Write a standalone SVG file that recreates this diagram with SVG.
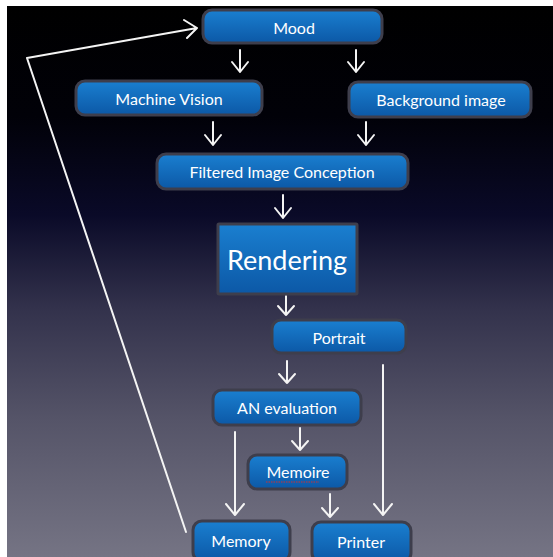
<svg xmlns="http://www.w3.org/2000/svg" width="553" height="557" viewBox="0 0 553 557">
<defs>
<linearGradient id="bg" x1="0" y1="0" x2="0" y2="1">
<stop offset="0" stop-color="#000000"/>
<stop offset="0.2" stop-color="#010108"/>
<stop offset="0.38" stop-color="#0a0a28"/>
<stop offset="0.55" stop-color="#33324c"/>
<stop offset="0.75" stop-color="#555468"/>
<stop offset="1" stop-color="#757484"/>
</linearGradient>
<linearGradient id="box" x1="0" y1="0" x2="0" y2="1">
<stop offset="0" stop-color="#1a7fd0"/>
<stop offset="1" stop-color="#0c58a6"/>
</linearGradient>
</defs>
<style>
.node rect{fill:url(#box);stroke:#3e3e4c;stroke-width:3}
.node text{fill:#ffffff;font-family:Lato,"Open Sans","Liberation Sans",sans-serif;font-size:16px;text-anchor:middle;dominant-baseline:central}
.c{fill:none;stroke:#f4f4f4;stroke-width:2;stroke-linecap:round;stroke-linejoin:round}
</style>
<rect x="0" y="0" width="553" height="557" fill="#ffffff"/>
<rect x="7" y="6" width="546" height="551" fill="url(#bg)"/>
<g id="connectors">
<path class="c" d="M240,50 V72 M232,62 L240,72 L248,62"/>
<path class="c" d="M356,50 V72 M348,62 L356,72 L364,62"/>
<path class="c" d="M213,122 V145 M205,135 L213,145 L221,135"/>
<path class="c" d="M366,122 V145 M358,135 L366,145 L374,135"/>
<path class="c" d="M283,195 V218 M275,208 L283,218 L291,208"/>
<path class="c" d="M286,296 V315 M278,306 L286,315 L294,306"/>
<path class="c" d="M287,361 V383 M279,374 L287,383 L295,374"/>
<path class="c" d="M300,428 V450 M292,441 L300,450 L308,441"/>
<path class="c" d="M235,432 V515 M226,504 L235,515 L244,504"/>
<path class="c" d="M330,494 V517 M322,508 L330,517 L338,508"/>
<path class="c" d="M383,365 V515 M374,504 L383,515 L392,504"/>
<path class="c" d="M186,532 L27,58 L197,28 M184,20 L197,28 L187,38"/>
</g>
<g id="mood" class="node"><rect x="203" y="10" width="179" height="33" rx="9"/><text x="294" y="27">Mood</text></g>
<g id="machine-vision" class="node"><rect x="76" y="81" width="186" height="34" rx="9"/><text x="169" y="98">Machine Vision</text></g>
<g id="background-image" class="node"><rect x="349" y="82" width="182" height="35" rx="9"/><text x="441" y="99.5">Background image</text></g>
<g id="filtered-image-conception" class="node"><rect x="157" y="154" width="251" height="35" rx="9"/><text x="282" y="171.5">Filtered Image Conception</text></g>
<g id="rendering" class="node"><rect x="218" y="224" width="139" height="70" rx="1"/><text x="287" y="259" style="font-size:27px">Rendering</text></g>
<g id="portrait" class="node"><rect x="272" y="320" width="134" height="33" rx="9"/><text x="339" y="337">Portrait</text></g>
<g id="an-evaluation" class="node"><rect x="213" y="390" width="148" height="35" rx="9"/><text x="287" y="407.5">AN evaluation</text></g>
<g id="memoire" class="node"><rect x="248" y="455" width="99" height="34" rx="9"/><text x="298" y="471">Memoire</text><line x1="266" y1="482" x2="319" y2="482" stroke="#d03030" stroke-width="1" stroke-dasharray="1.5 1"/></g>
<g id="memory" class="node"><rect x="193" y="521" width="97" height="40" rx="9"/><text x="241" y="540">Memory</text></g>
<g id="printer" class="node"><rect x="312" y="522" width="99" height="40" rx="9"/><text x="361" y="541">Printer</text></g>
</svg>
